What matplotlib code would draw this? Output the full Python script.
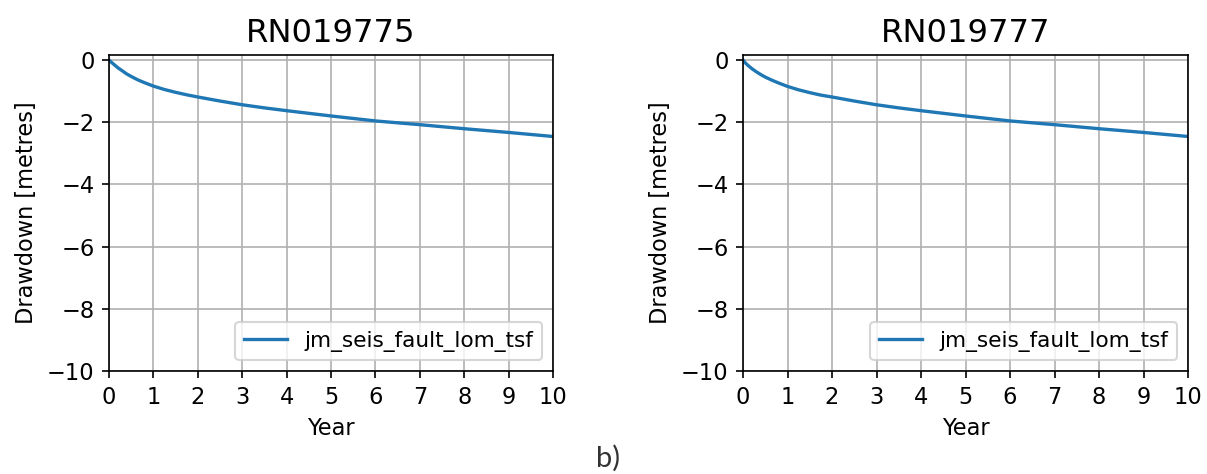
import numpy as np
import matplotlib
matplotlib.use("Agg")
import matplotlib.pyplot as plt

# ===== DATA =====
years = [0, 0.05, 0.1, 0.2, 0.3, 0.4, 0.5, 0.65, 0.8, 1, 1.25, 1.5, 1.75,
         2, 2.5, 3, 3.5, 4, 5, 6, 7, 8, 9, 10]
dd_rn019775 = [0, -0.07, -0.13, -0.25, -0.35, -0.45, -0.53, -0.64, -0.73,
               -0.84, -0.95, -1.04, -1.12, -1.19, -1.32, -1.44, -1.54,
               -1.63, -1.80, -1.96, -2.08, -2.21, -2.33, -2.46]
dd_rn019777 = [0, -0.09, -0.16, -0.28, -0.38, -0.47, -0.55, -0.65, -0.74,
               -0.85, -0.96, -1.05, -1.13, -1.19, -1.32, -1.44, -1.54,
               -1.63, -1.80, -1.96, -2.08, -2.21, -2.33, -2.46]
bores = ["RN019775", "RN019777"]
series_name = "jm_seis_fault_lom_tsf"
xticks = list(range(0, 11))
yticks = [0, -2, -4, -6, -8, -10]

# ===== PLOT =====
plt.rcParams["font.size"] = 10.8
fig = plt.figure(figsize=(1207 / 150, 474 / 150), dpi=150)
ax1 = fig.add_axes([109 / 1207, 1 - 371 / 474, 444 / 1207, 316 / 474])
ax2 = fig.add_axes([743 / 1207, 1 - 371 / 474, 445 / 1207, 316 / 474])

for ax, name, dd in zip([ax1, ax2], bores, [dd_rn019775, dd_rn019777]):
    ax.plot(years, dd, color="#1f77b4", lw=1.6, label=series_name)
    ax.set_xlim(0, 10)
    ax.set_ylim(-10, 0.16)
    ax.set_xticks(xticks)
    ax.set_yticks(yticks)
    ax.grid(True)
    ax.set_title(name, fontsize=15.5)
    ax.set_xlabel("Year")
    ax.set_ylabel("Drawdown [metres]")
    ax.legend(loc="lower right", fontsize=10.4)

fig.text(608 / 1207, 1 - 458 / 474, "b)", ha="center", va="center",
         fontsize=14, family="Lato", color="#333333")

fig.savefig("out.png", dpi=150)
